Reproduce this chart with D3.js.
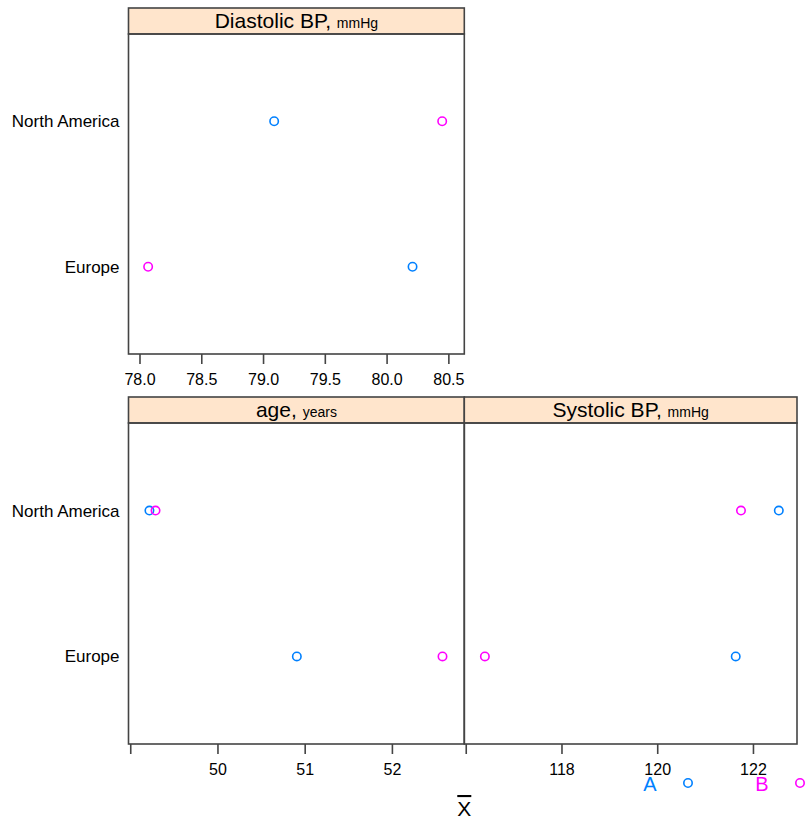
<!DOCTYPE html>
<meta charset="utf-8">
<script src="https://d3js.org/d3.v7.min.js"></script>
<style>
  body { margin: 0; background: #fff; }
  text { font-family: "Liberation Sans", Arial, sans-serif; fill: #000; }
</style>
<div id="chart"></div>
<script>

// data: one value per region, for each group
var regions = ["Europe", "North America"];
var groups = ["A", "B"];
var colors = ["#0080ff", "#ff00ff"];

var diastolicA = [80.21, 79.09];
var diastolicB = [78.07, 80.45];
var ageA = [50.91, 49.22];
var ageB = [52.58, 49.29];
var systolicA = [121.64, 122.54];
var systolicB = [116.40, 121.75];

// tick values and labels
var diastolicTicks = [78.0, 78.5, 79.0, 79.5, 80.0, 80.5];
var diastolicLabels = ["78.0", "78.5", "79.0", "79.5", "80.0", "80.5"];
var ageTicks = [49, 50, 51, 52];
var ageLabels = ["", "50", "51", "52"];
var systolicTicks = [116, 118, 120, 122];
var systolicLabels = ["", "118", "120", "122"];

// layout
var W = 806, H = 822;
var colX = [128.5, 464.3, 797];
var stripH = 26;

var svg = d3.select("#chart")
  .append("svg")
    .attr("width", W)
    .attr("height", H);

var panels = [
  {name: "Diastolic BP", unit: "mmHg", a: diastolicA, b: diastolicB,
   domain: [77.911, 80.629], ticks: diastolicTicks, labels: diastolicLabels,
   x0: colX[0], x1: colX[1], top: 8, bottom: 354, yLabels: true},
  {name: "age", unit: "years", a: ageA, b: ageB,
   domain: [48.98, 52.83], ticks: ageTicks, labels: ageLabels,
   x0: colX[0], x1: colX[1], top: 397, bottom: 744, yLabels: true},
  {name: "Systolic BP", unit: "mmHg", a: systolicA, b: systolicB,
   domain: [115.97, 122.92], ticks: systolicTicks, labels: systolicLabels,
   x0: colX[1], x1: colX[2], top: 397, bottom: 744, yLabels: false}
];

panels.forEach(function(p) {
  var ptop = p.top + stripH;

  var x = d3.scaleLinear().domain(p.domain).range([p.x0, p.x1]);
  var y = d3.scalePoint().domain(regions).range([p.bottom, ptop]).padding(0.6);

  // strip
  svg.append("rect")
    .attr("x", p.x0).attr("y", p.top)
    .attr("width", p.x1 - p.x0).attr("height", stripH)
    .style("fill", "#ffe5cc")
    .style("stroke", "#444")
    .style("stroke-width", 1.6);

  var st = svg.append("text")
    .attr("x", (p.x0 + p.x1) / 2)
    .attr("y", p.top + 20)
    .attr("text-anchor", "middle")
    .style("font-size", "21px");
  st.append("tspan").text(p.name + ", ");
  st.append("tspan").style("font-size", "14px").text(p.unit);

  // panel frame
  svg.append("rect")
    .attr("x", p.x0).attr("y", ptop)
    .attr("width", p.x1 - p.x0).attr("height", p.bottom - ptop)
    .style("fill", "none")
    .style("stroke", "#444")
    .style("stroke-width", 1.6);

  // x axis
  var ax = svg.append("g")
    .attr("transform", "translate(0," + p.bottom + ")")
    .call(d3.axisBottom(x)
      .tickValues(p.ticks)
      .tickFormat(function(d, i) { return p.labels[i]; })
      .tickSize(10)
      .tickPadding(10));
  ax.select(".domain").remove();
  ax.selectAll("line").style("stroke", "#444").style("stroke-width", 1.6);
  ax.selectAll("text")
    .style("font-size", "16px")
    .style("font-family", "'Liberation Sans', Arial, sans-serif")
    .attr("fill", "#000");

  // y labels
  if (p.yLabels) {
    svg.selectAll(null)
      .data(regions)
      .enter()
      .append("text")
        .attr("x", p.x0 - 9)
        .attr("y", function(d) { return y(d) + 6; })
        .attr("text-anchor", "end")
        .style("font-size", "17px")
        .text(function(d) { return d; });
  }

  // points
  [p.a, p.b].forEach(function(vals, gi) {
    svg.append("g")
      .selectAll("circle")
      .data(vals)
      .enter()
      .append("circle")
        .attr("cx", function(d) { return x(d); })
        .attr("cy", function(d, i) { return y(regions[i]); })
        .attr("r", 4.2)
        .style("fill", "none")
        .style("stroke", colors[gi])
        .style("stroke-width", 1.6);
  });
});

// key
var legendX = 650, legendY = 783, colStep = 112, symGap = 38;
var key = svg.append("g");
groups.forEach(function(g, i) {
  key.append("text")
    .attr("x", legendX + i * colStep)
    .attr("y", legendY + 8)
    .attr("text-anchor", "middle")
    .style("font-size", "20px")
    .style("fill", colors[i])
    .text(g);
  key.append("circle")
    .attr("cx", legendX + i * colStep + symGap)
    .attr("cy", legendY)
    .attr("r", 4.2)
    .style("fill", "none")
    .style("stroke", colors[i])
    .style("stroke-width", 1.6);
});

// x label: X bar
svg.append("text")
  .attr("x", colX[1])
  .attr("y", 816)
  .attr("text-anchor", "middle")
  .style("font-size", "21px")
  .style("text-decoration", "overline")
  .text("X");

</script>
